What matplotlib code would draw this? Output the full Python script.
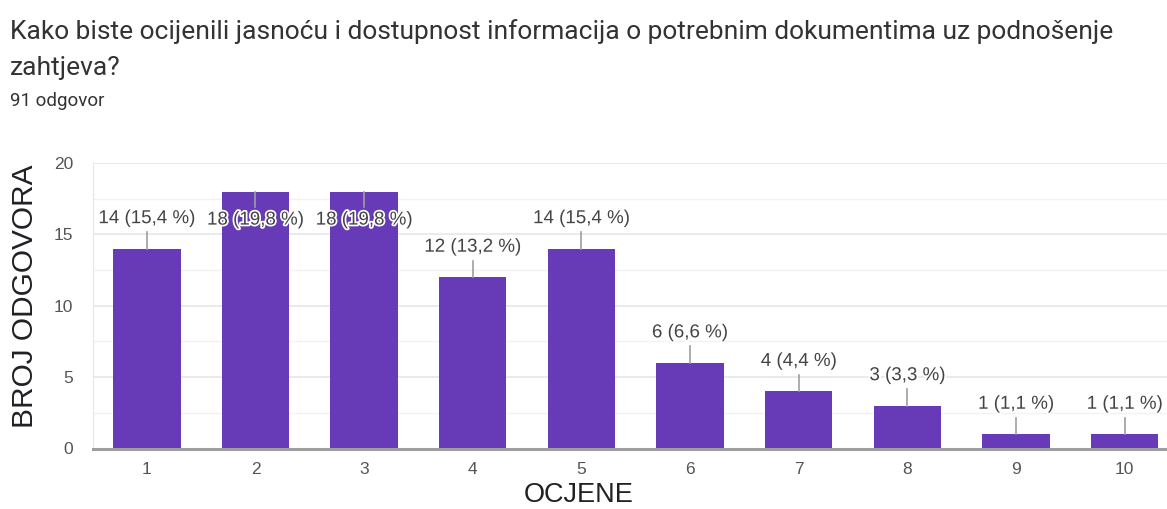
import matplotlib
matplotlib.use('Agg')
import matplotlib.pyplot as plt
import matplotlib.patheffects as pe

# data
ratings = ['1', '2', '3', '4', '5', '6', '7', '8', '9', '10']
counts = [14, 18, 18, 12, 14, 6, 4, 3, 1, 1]
percents = ['15,4', '19,8', '19,8', '13,2', '15,4', '6,6', '4,4', '3,3', '1,1', '1,1']

title_lines = ['Kako biste ocijenili jasnoću i dostupnost informacija o potrebnim dokumentima uz podnošenje',
               'zahtjeva?']
subtitle = '91 odgovor'

W, H = 1167, 509
fig = plt.figure(figsize=(W / 100, H / 100), dpi=100)
fig.patch.set_facecolor('white')

# plot area in pixel coordinates of the reference
left, right, top, bottom = 92.5, 1179, 163, 448.5
ax = fig.add_axes([left / W, 1 - bottom / H, (right - left) / W, (bottom - top) / H])

x = list(range(1, len(counts) + 1))
ax.bar(x, counts, width=0.62, color='#673ab7', zorder=3)

ax.set_xlim(0.5, len(counts) + 0.5)
ax.set_ylim(0, 20)
ax.set_yticks([0, 5, 10, 15, 20])
ax.set_yticks([2.5, 7.5, 12.5, 17.5], minor=True)
ax.set_xticks(x)
ax.set_xticklabels(ratings)

ax.yaxis.grid(True, which='major', color='#e6e6e6', linewidth=1.2, zorder=0)
ax.yaxis.grid(True, which='minor', color='#f2f2f2', linewidth=1.0, zorder=0)
ax.tick_params(axis='both', which='both', length=0, labelsize=12.5, colors='#555555',
               labelfontfamily='Liberation Sans')
ax.tick_params(axis='x', pad=10)
ax.tick_params(axis='y', pad=14)

for s in ['top', 'right']:
    ax.spines[s].set_visible(False)
ax.spines['left'].set_color('#e6e6e6')
ax.spines['bottom'].set_color('#9e9e9e')
ax.spines['bottom'].set_linewidth(2.2)
ax.spines['bottom'].set_zorder(4)

# value labels with stems
for xi, c, p in zip(x, counts, percents):
    if c + 2.6 > 20:
        ly, s0, s1 = c - 2.0, c, c - 1.1
    else:
        ly, s0, s1 = c + 2.1, c, c + 1.15
    ax.plot([xi, xi], [s0, s1], color='#9e9e9e', linewidth=1.2, zorder=4)
    ax.text(xi, ly, f'{c} ({p} %)', ha='center', va='center', fontsize=13.5,
            family='Liberation Sans', color='#444444', zorder=5,
            path_effects=[pe.withStroke(linewidth=2.5, foreground='white')])

for line, ty in zip(title_lines, [32, 68]):
    fig.text(10 / W, 1 - ty / H, line, ha='left', va='center', fontsize=19,
             family='Roboto', color='#333333')
fig.text(10 / W, 1 - 101 / H, subtitle, ha='left', va='center', fontsize=13.5,
         family='Roboto', color='#333333')
fig.text(25 / W, 1 - 296 / H, 'BROJ ODGOVORA', rotation=90, ha='center', va='center',
         fontsize=21.5, family='Liberation Sans', color='#202124')
fig.text(579 / W, 1 - 495 / H, 'OCJENE', ha='center', va='center',
         fontsize=19.5, family='Liberation Sans', color='#202124')

fig.savefig('out.png', dpi=100, facecolor='white')
